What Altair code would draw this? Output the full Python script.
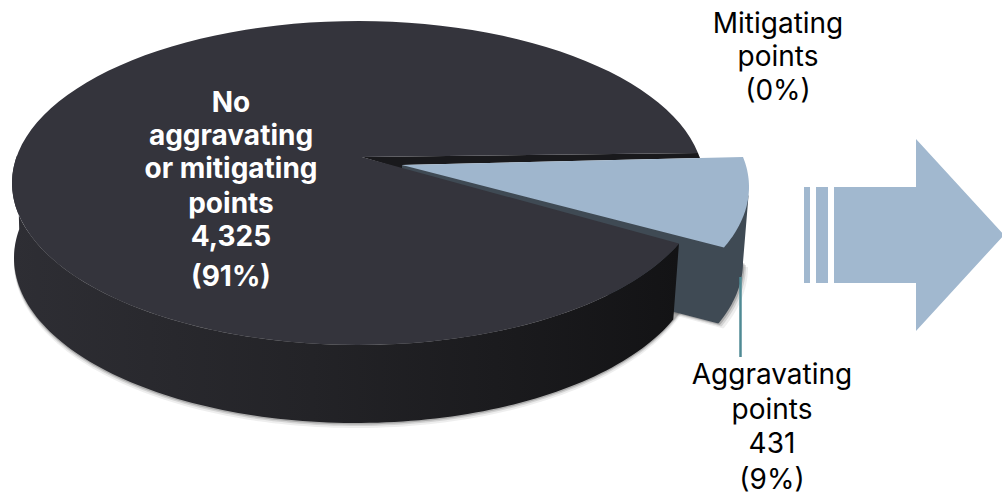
import math
import altair as alt

# Case counts behind the pie, in drawing order around the circle
categories = ["Mitigating points", "Aggravating points", "No aggravating or mitigating points"]
counts = [0, 431, 4325]
main_lines = ["No", "aggravating", "or mitigating", "points", "4,325", "(91%)"]
mitigating_lines = ["Mitigating", "points", "(0%)"]
aggravating_lines = ["Aggravating", "points", "431", "(9%)"]

FONT = "Inter"
DARK_TOP = "#34343c"
LIGHT_TOP = "#9fb6cd"
LIGHT_SIDE = "#3f4a54"
ARROW = "#a1b8cf"
LEADER = "#4f8a94"

# Perspective pie: upper and lower rims, with the apex off the rim centre
TOP = dict(cx=358, cy=183, rx=346, ry=162)
BOTTOM = dict(cx=356, cy=258, rx=342, ry=165)
APEX = (362, 157)
EXPLODE = (45, 4)
START_DEG = -10.7

total = sum(counts)
sweep_agg = 360 * counts[1] / total
t0 = START_DEG + 360 * counts[0] / total
t1 = t0 + sweep_agg
t_full = START_DEG + 360


def rim(e, a, b, shift=(0, 0), n=120):
    pts = []
    for i in range(n + 1):
        t = math.radians(a + (b - a) * i / n)
        pts.append((e["cx"] + e["rx"] * math.cos(t) + shift[0],
                    e["cy"] + e["ry"] * math.sin(t) + shift[1]))
    return pts


def poly(points, **mark):
    ring = [list(p) for p in points] + [list(points[0])]
    feature = {"type": "Feature", "properties": {},
               "geometry": {"type": "Polygon", "coordinates": [ring]}}
    return (alt.Chart(alt.Data(values=[feature]))
            .mark_geoshape(stroke=None, **mark)
            .project(type="identity", scale=1, translate=[0, 0]))


def label(lines, x, ys, color="black", weight="normal", size=28):
    rows = [{"t": s, "y": y} for s, y in zip(lines, ys)]
    return (alt.Chart(alt.Data(values=rows))
            .mark_text(font=FONT, fontSize=size, fontWeight=weight, color=color,
                       align="center", baseline="middle")
            .encode(x=alt.value(x), y=alt.Y("y:Q", scale=None), text="t:N"))


lower_main = rim(TOP, t1, 190) + rim(BOTTOM, 190, t1)
side_gradient = alt.LinearGradient(
    gradient="linear", x1=0, x2=1, y1=0, y2=0,
    stops=[alt.GradientStop(offset=0, color="#2e2e34"),
           alt.GradientStop(offset=0.45, color="#232327"),
           alt.GradientStop(offset=1, color="#131315")])

ex, ey = EXPLODE
light_apex = (APEX[0] + ex - 5, APEX[1] + ey + 4)
light_apex_low = (light_apex[0], light_apex[1] + 76)
sliver_end = rim(TOP, t0, t0, (0, 0), 1)[0]

layers = []

# Soft shadow beneath the solid
for dy, op in [(5, 0.10), (3, 0.18), (1.5, 0.3)]:
    layers.append(poly(rim(BOTTOM, 15, 190, (0, dy)) + [(BOTTOM["cx"], BOTTOM["cy"])],
                       fill="#555555", opacity=op))
    layers.append(poly(rim(BOTTOM, 0, t1, (ex + dy, ey + dy)) + [light_apex_low],
                       fill="#555555", opacity=op))

# Walls of the pulled-out slice, as one outline
layers.append(poly([light_apex] + rim(TOP, 3, 3, EXPLODE, 1)[:1]
                   + rim(BOTTOM, 0, t1, EXPLODE) + [light_apex_low], fill=LIGHT_SIDE))

# Body of the large slice
layers.append(poly(lower_main, fill=side_gradient))
layers.append(poly([APEX, sliver_end, (sliver_end[0] + 2, sliver_end[1] + 5),
                    light_apex, (light_apex[0], light_apex[1] + 4)], fill="#19191c"))
layers.append(poly([APEX] + rim(TOP, t1, t_full), fill=DARK_TOP))

# Top of the pulled-out slice
layers.append(poly([light_apex] + rim(TOP, t0, t1, EXPLODE), fill=LIGHT_TOP))

# Arrow with its two trailing bars
layers.append(poly([(834, 187), (916, 187), (916, 139), (1004, 235), (916, 331), (916, 283), (834, 283)], fill=ARROW))
layers.append(poly([(804, 187), (810, 187), (810, 283), (804, 283)], fill=ARROW))
layers.append(poly([(816, 187), (828, 187), (828, 283), (816, 283)], fill=ARROW))

# Leader line to the aggravating label
layers.append(alt.Chart(alt.Data(values=[{"k": 1}])).mark_rule(color=LEADER, strokeWidth=2.5).encode(
    x=alt.value(740.5), y=alt.value(277), y2=alt.value(357)))

layers.append(label(main_lines, 231, [104, 137, 170, 205, 238, 278], color="white", weight="bold"))
layers.append(label(mitigating_lines, 778, [25, 58, 92]))
layers.append(label(aggravating_lines, 772, [376, 411, 445, 481]))

chart = (alt.layer(*layers)
         .properties(width=1002, height=496, padding=0, background="white",
                     autosize=alt.AutoSizeParams(type="none"))
         .configure_view(stroke=None))

chart.save("out.html", embed_options={"renderer": "svg", "actions": False})
